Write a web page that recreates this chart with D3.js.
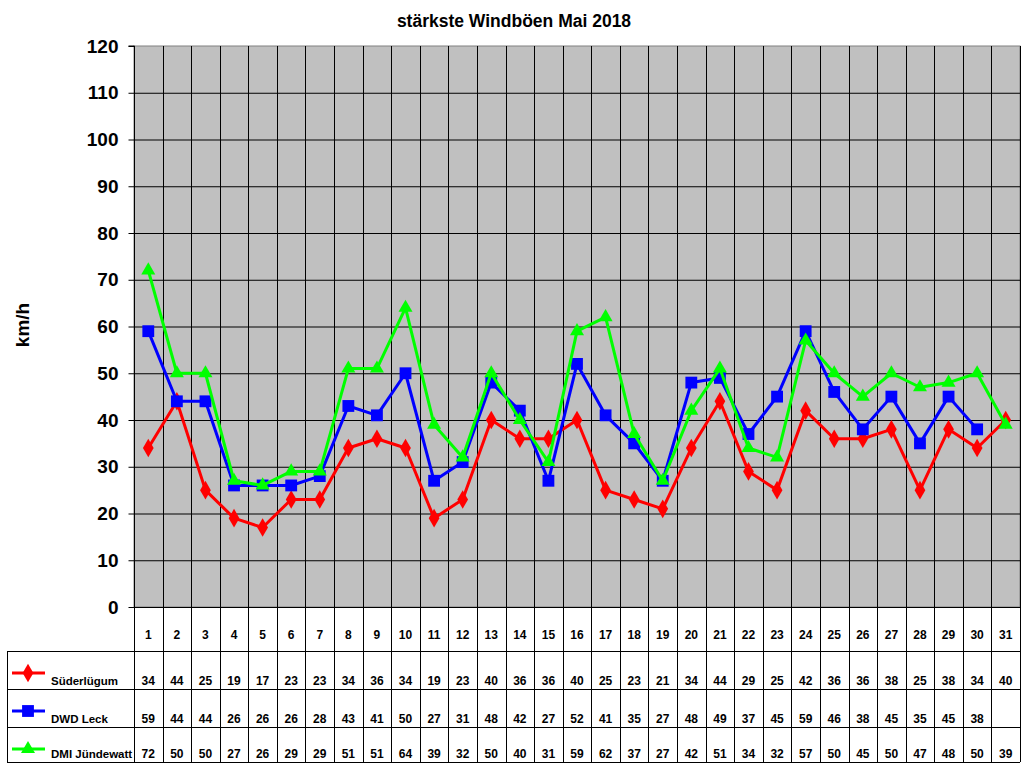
<!DOCTYPE html>
<html>
<head>
<meta charset="utf-8">
<script src="https://cdn.jsdelivr.net/npm/d3@7"></script>
<style>
  body { margin: 0; background: #fff; }
  text { font-family: Arial, 'Liberation Sans', sans-serif; font-weight: bold; }
</style>
</head>
<body>
<div id="chart"></div>
<script>
const days = d3.range(1, 32)

const suederluegum = [34, 44, 25, 19, 17, 23, 23, 34, 36, 34, 19, 23, 40, 36, 36, 40, 25, 23, 21, 34, 44, 29, 25, 42, 36, 36, 38, 25, 38, 34, 40]
const dwdLeck = [59, 44, 44, 26, 26, 26, 28, 43, 41, 50, 27, 31, 48, 42, 27, 52, 41, 35, 27, 48, 49, 37, 45, 59, 46, 38, 45, 35, 45, 38, null]
const dmiJuendewatt = [72, 50, 50, 27, 26, 29, 29, 51, 51, 64, 39, 32, 50, 40, 31, 59, 62, 37, 27, 42, 51, 34, 32, 57, 50, 45, 50, 47, 48, 50, 39]

const seriesNames = ['Süderlügum', 'DWD Leck', 'DMI Jündewatt']
const seriesValues = [suederluegum, dwdLeck, dmiJuendewatt]
const seriesColors = ['#ff0000', '#0000ff', '#00ff00']
const seriesSymbols = [d3.symbolDiamond, d3.symbolSquare, d3.symbolTriangle]

const yTicks = d3.range(0, 121, 10)

const width = 1024
const height = 768
const plot = { left: 134, right: 1020, top: 46, bottom: 607 }
const tableRows = [651, 689, 727, 762] // bottom edge of day row, then each series row

const svg = d3
  .select('#chart')
  .append('svg')
  .attr('width', width)
  .attr('height', height)

const x = d3
  .scaleBand()
  .domain(days)
  .range([plot.left, plot.right])

const y = d3
  .scaleLinear()
  .domain([0, 120])
  .range([plot.bottom, plot.top])

// plot background
svg
  .append('rect')
  .attr('x', plot.left)
  .attr('y', plot.top)
  .attr('width', plot.right - plot.left)
  .attr('height', plot.bottom - plot.top)
  .attr('fill', '#c0c0c0')
  .attr('stroke', '#808080')

// horizontal grid
svg
  .selectAll('.hgrid')
  .data(yTicks.slice(1, -1))
  .enter()
  .append('line')
  .attr('class', 'hgrid')
  .attr('x1', plot.left)
  .attr('x2', plot.right)
  .attr('y1', d => y(d) + 0.5)
  .attr('y2', d => y(d) + 0.5)
  .attr('stroke', '#000')

// vertical grid, continued down through the data table
svg
  .selectAll('.vgrid')
  .data(days.slice(1))
  .enter()
  .append('line')
  .attr('class', 'vgrid')
  .attr('x1', d => Math.round(x(d)) + 0.5)
  .attr('x2', d => Math.round(x(d)) + 0.5)
  .attr('y1', plot.top)
  .attr('y2', tableRows[3])
  .attr('stroke', '#000')

// y axis
const yAxis = svg
  .append('g')
  .attr('transform', 'translate(' + (plot.left + 0.5) + ',0)')
  .call(d3.axisLeft(y).tickValues(yTicks).tickSize(6).tickPadding(10))
yAxis.select('.domain').attr('stroke', '#000').attr('d', 'M-6,' + plot.top + 'H0V' + tableRows[3])
yAxis.selectAll('text').attr('font-size', 19).attr('font-family', null).attr('fill', '#000')
yAxis.selectAll('line').attr('stroke', '#000')

// right border of table/plot
svg
  .append('line')
  .attr('x1', plot.right + 0.5)
  .attr('x2', plot.right + 0.5)
  .attr('y1', plot.top)
  .attr('y2', tableRows[3])
  .attr('stroke', '#000')

// x baseline
svg
  .append('line')
  .attr('x1', plot.left)
  .attr('x2', plot.right)
  .attr('y1', plot.bottom + 0.5)
  .attr('y2', plot.bottom + 0.5)
  .attr('stroke', '#000')

// table horizontal lines
svg
  .selectAll('.trow')
  .data(tableRows)
  .enter()
  .append('line')
  .attr('class', 'trow')
  .attr('x1', 7)
  .attr('x2', plot.right)
  .attr('y1', d => d + 0.5)
  .attr('y2', d => d + 0.5)
  .attr('stroke', '#000')

svg
  .append('line')
  .attr('x1', 7.5)
  .attr('x2', 7.5)
  .attr('y1', tableRows[0])
  .attr('y2', tableRows[3])
  .attr('stroke', '#000')

// day numbers
svg
  .selectAll('.day')
  .data(days)
  .enter()
  .append('text')
  .attr('class', 'day')
  .attr('x', d => x(d) + x.bandwidth() / 2)
  .attr('y', 639)
  .attr('text-anchor', 'middle')
  .attr('font-size', 12)
  .text(d => d)

// series
seriesValues.forEach((values, i) => {
  const points = days
    .map((d, j) => ({ day: d, value: values[j] }))
    .filter(p => p.value !== null)

  const line = d3
    .line()
    .x(p => x(p.day) + x.bandwidth() / 2)
    .y(p => y(p.value))

  const g = svg.append('g')

  g.append('path')
    .datum(points)
    .attr('d', line)
    .attr('fill', 'none')
    .attr('stroke', seriesColors[i])
    .attr('stroke-width', 3)
    .attr('stroke-linejoin', 'round')

  const symbolSize = i === 0 ? 100 : i === 1 ? 140 : 85
  g.selectAll('.marker')
    .data(points)
    .enter()
    .append('path')
    .attr('class', 'marker')
    .attr('d', d3.symbol().type(seriesSymbols[i]).size(symbolSize))
    .attr('transform', p => 'translate(' + (x(p.day) + x.bandwidth() / 2) + ',' + y(p.value) + ')')
    .attr('fill', seriesColors[i])

  // table values
  const rowBottom = tableRows[i + 1]
  svg
    .selectAll('.val' + i)
    .data(points)
    .enter()
    .append('text')
    .attr('class', 'val' + i)
    .attr('x', p => x(p.day) + x.bandwidth() / 2)
    .attr('y', rowBottom - 4)
    .attr('text-anchor', 'middle')
    .attr('font-size', 12)
    .text(p => Math.round(p.value))

  // legend key in the table
  const ly = tableRows[i] + 22
  svg
    .append('line')
    .attr('x1', 12)
    .attr('x2', 45)
    .attr('y1', ly)
    .attr('y2', ly)
    .attr('stroke', seriesColors[i])
    .attr('stroke-width', 3)
  svg
    .append('path')
    .attr('d', d3.symbol().type(seriesSymbols[i]).size(symbolSize))
    .attr('transform', 'translate(28,' + ly + ')')
    .attr('fill', seriesColors[i])
  svg
    .append('text')
    .attr('x', 51)
    .attr('y', rowBottom - 4)
    .attr('font-size', 11.5)
    .text(seriesNames[i])
})

// title
svg
  .append('text')
  .attr('x', 514)
  .attr('y', 27)
  .attr('text-anchor', 'middle')
  .attr('font-size', 17.5)
  .text('stärkste Windböen Mai 2018')

// y label
svg
  .append('text')
  .attr('transform', 'translate(29,325) rotate(-90)')
  .attr('text-anchor', 'middle')
  .attr('font-size', 19)
  .text('km/h')
</script>
</body>
</html>
